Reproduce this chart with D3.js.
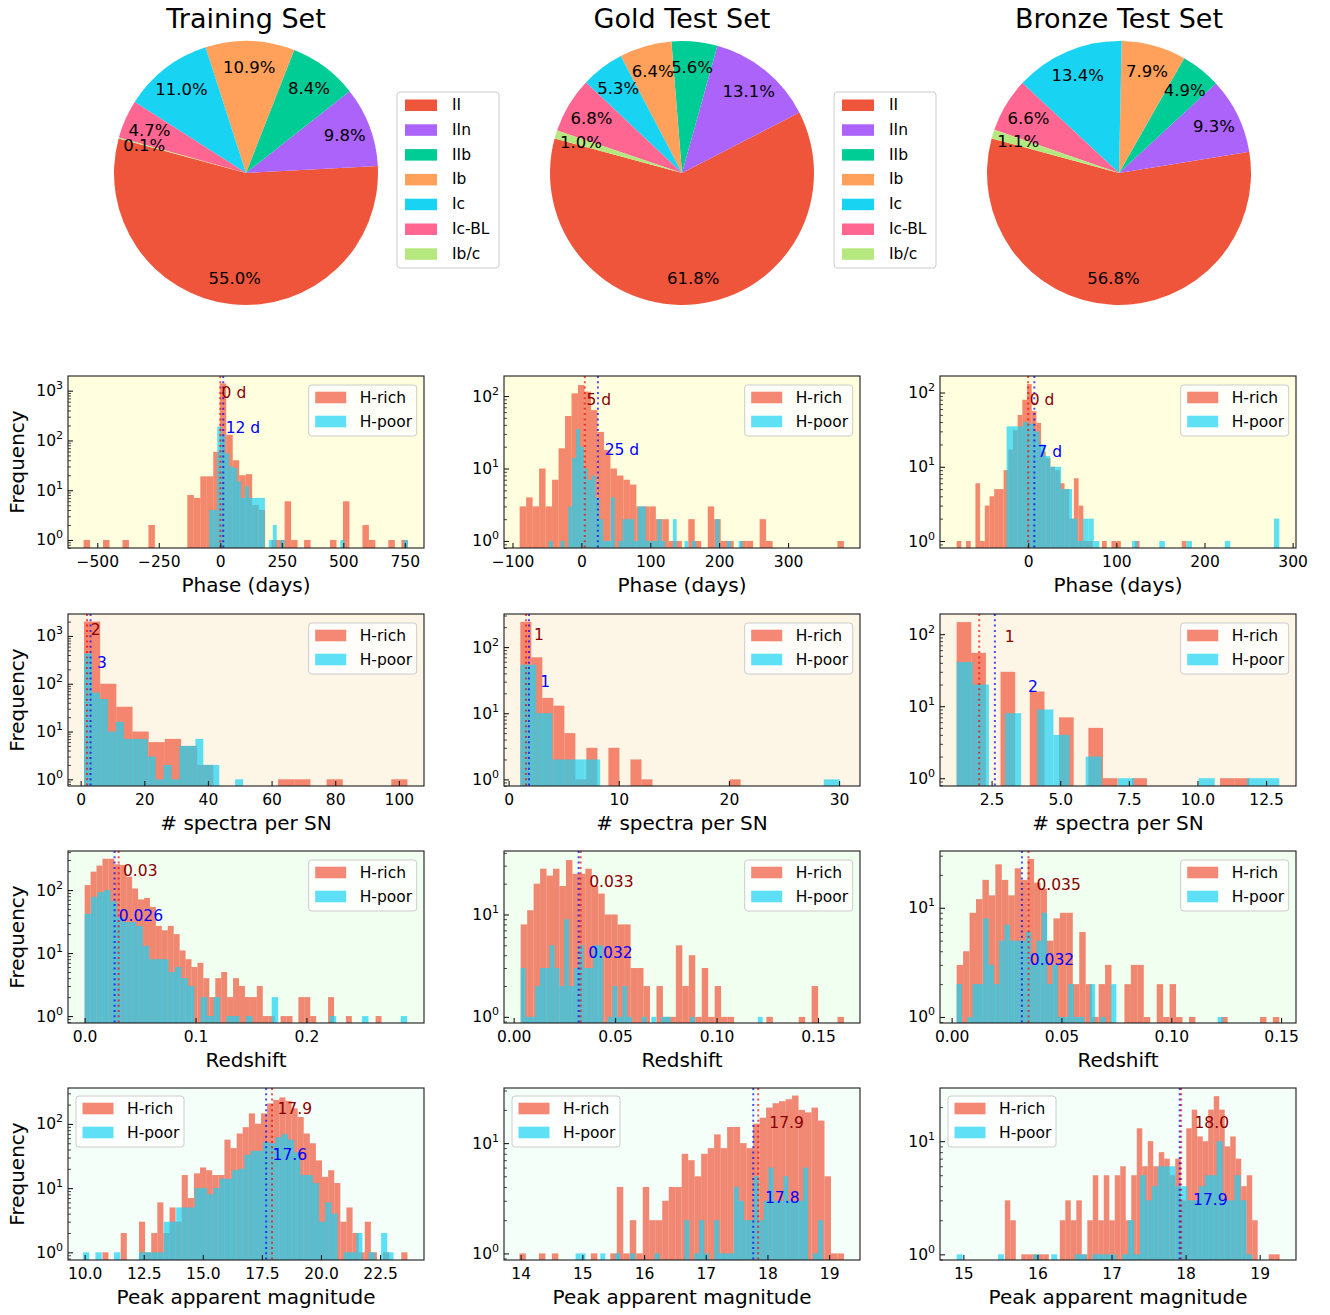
<!DOCTYPE html>
<html><head><meta charset="utf-8">
<script src="https://cdn.jsdelivr.net/npm/d3@7"></script>
<style>body{margin:0;background:#fff} text{font-family:"DejaVu Sans",sans-serif}</style>
</head><body><svg id="c" width="1330" height="1315"></svg>
<script>
// ---------------- Pie data ----------------
const snTypes = ["II","IIn","IIb","Ib","Ic","Ic-BL","Ib/c"];
const snColors = ["#EF553B","#AB63FA","#00CC96","#FFA15A","#19D3F3","#FF6692","#B6E880"];
const pieTitles = ["Training Set","Gold Test Set","Bronze Test Set"];
const trainingPct = [55.0,9.8,8.4,10.9,11.0,4.7,0.1];
const goldPct = [61.8,13.1,5.6,6.4,5.3,6.8,1.0];
const bronzePct = [56.8,9.3,4.9,7.9,13.4,6.6,1.1];

// ---------------- Histogram data ----------------
const seriesNames = ["H-rich","H-poor"];
const seriesColors = ["#EF553B","#19D3F3"];
const rowLabels = ["Phase (days)","# spectra per SN","Redshift","Peak apparent magnitude"];

// Phase
const phaseTrainRichBins = [-555.7, 762.2];
const phaseTrainRichCounts = [1,0,0,1,0,0,1,0,0,0, 2,0,0,0,0,0,8,7,19,19, 59,1400,130,40,20,21,5,4,0,1, 1,6,1,0,1,0,0,0,1,0, 6,0,0,2,1,0,0,1,0,1];
const phaseTrainPoorBins = [-44.8, 762.2];
const phaseTrainPoorCounts = [4,4,190,130,55,30,28,15,7,12, 7,7,7,7,0,1,2,0,1,0, 0,0,0,0,0,0,0,0,0,0, 0,0,0,1,0,0,0,0,0,0, 0,0,0,0,0,0,0,0,0,1];
const phaseGoldRichBins = [-89.6, 381.1];
const phaseGoldRichCounts = [3,4,3,10,3,7,19,53,109,142, 115,64,32,18,10,8,7,6,3,3, 3,2,2,1,1,0,2,1,0,3, 2,1,1,0,1,1,0,2,1,0, 0,0,0,0,0,0,0,0,0,1];
const phaseGoldPoorBins = [-47.0, 233.9];
const phaseGoldPoorCounts = [1,0,0,1,0,3,14,35,20,10, 7,8,4,2,1,1,4,0,1,2, 2,2,1,3,3,1,1,1,2,1, 0,0,2,0,0,1,0,1,0,0, 0,0,0,2,0,0,1,0,0,1];
const phaseBronzeRichBins = [-81.1, 184.9];
const phaseBronzeRichCounts = [1,0,1,0,6,1,3,4,5,5, 9,17,31,50,80,130,56,39,16,13, 10,9,6,5,2,7,3,1,1,0, 0,1,0,1,1,0,0,0,1,0, 0,0,0,0,0,0,0,0,1,0];
const phaseBronzePoorBins = [-24.5, 284.9];
const phaseBronzePoorCounts = [35,35,35,40,38,30,20,14,10,10, 5,5,2,1,2,2,1,0,0,0, 0,0,0,1,0,0,0,0,1,0, 0,0,0,1,0,0,0,0,0,0, 1,0,0,0,0,0,0,0,0,2];

// Number of spectra per SN
const specTrainRichBins = [1.05, 102.7];
const specTrainRichCounts = [2000,100,33,10,6,7,5,2,0,0, 0,0,1,1,0,1,0,0,0,1];
const specTrainPoorBins = [1.05, 51.05];
const specTrainPoorCounts = [430,65,48,10,16,7,7,7,3,1, 2,1,5,5,7,2,2,0,0,1];
const specGoldRichBins = [1.06, 21.06];
const specGoldRichCounts = [240,70,17,13,5,1,3,0,3,0, 2,1,0,0,0,0,0,0,0,1];
const specGoldPoorBins = [1.06, 30.06];
const specGoldPoorCounts = [54,10,2,2,2,0,0,0,0,0, 0,0,0,0,0,0,0,0,0,1];
const specBronzeRichBins = [1.227, 11.89];
const specBronzeRichCounts = [147,55,0,30,0,16,0,7,0,5, 1,0,1,0,0,0,0,0,1,1];
const specBronzePoorBins = [1.227, 12.98];
const specBronzePoorCounts = [41,20,0,8,0,9,4,0,2,0, 1,0,0,0,0,1,0,0,1,1];

// Redshift
const zTrainRichBins = [0.0, 0.2677];
const zTrainRichCounts = [120,196,245,314,314,257,250,163,106,71, 75,54,27,23,27,20,11,8,6,7, 4,2,4,5,2,4,3,2,2,3, 1,1,0,1,1,0,2,2,1,0, 0,2,0,0,1,0,0,0,0,1];
const zTrainPoorBins = [0.0, 0.2908];
const zTrainPoorCounts = [42,78,93,100,66,37,31,31,27,13, 8,8,8,5,6,4,3,0,2,1, 2,0,1,1,0,1,0,0,0,2, 0,0,0,0,0,0,0,0,1,0, 0,0,0,1,0,0,0,0,0,1];
const zGoldRichBins = [0.00345, 0.1628];
const zGoldRichCounts = [8,11,20,28,24,28,19,34,25,25, 28,19,16,10,10,8,8,3,3,2, 0,2,1,1,5,2,4,1,3,1, 2,1,1,0,0,0,0,0,1,0, 0,0,0,1,0,2,0,0,0,1];
const zGoldPoorBins = [0.00345, 0.1227];
const zGoldPoorCounts = [3,1,1,2,3,3,5,3,2,9, 2,3,5,3,3,5,5,0,1,2, 1,2,1,0,0,1,0,1,0,1, 1,0,0,0,0,1,0,0,0,0, 0,0,0,0,0,0,0,0,0,1];
const zBronzeRichBins = [0.00227, 0.1492];
const zBronzeRichCounts = [3,4,9,12,18,13,25,18,13,23, 18,28,17,15,5,8,9,9,2,6, 2,1,2,3,0,0,2,3,3,1, 0,2,1,2,1,0,1,0,0,0, 0,1,0,0,0,0,0,1,0,1];
const zBronzePoorBins = [0.00227, 0.1235];
const zBronzePoorCounts = [2,0,1,2,2,8,3,2,5,7, 5,5,5,6,3,5,9,2,3,1, 1,2,1,1,0,2,0,1,0,2, 0,0,0,0,0,0,0,0,0,0, 0,0,0,0,0,0,0,0,0,1];

// Peak apparent magnitude
const magTrainRichBins = [10.75, 23.66];
const magTrainRichCounts = [1,0,0,2,0,0,3,1,2,6, 2,5,3,16,7,17,21,19,16,16, 57,42,71,89,146,101,146,209,236,259, 229,175,128,71,50,27,15,19,12,3, 5,2,1,3,1,0,1,0,0,1];
const magTrainPoorBins = [9.93, 23.07];
const magTrainPoorCounts = [1,0,1,0,0,1,0,0,0,1, 1,1,1,3,3,5,5,5,10,10, 8,10,14,14,19,20,33,38,38,52, 50,62,69,57,36,16,16,12,3,6, 4,0,1,1,2,0,1,0,2,1];
const magGoldRichBins = [13.98, 19.24];
const magGoldRichCounts = [1,0,0,1,0,1,0,0,0,0, 0,1,0,0,1,4,1,2,1,4, 2,2,3,4,4,8,7,5,8,9, 12,9,14,14,10,9,15,17,21,23, 24,25,27,20,19,21,16,5,1,1];
const magGoldPoorBins = [14.89, 18.90];
const magGoldPoorCounts = [1,1,0,0,0,1,0,0,1,0, 0,1,0,0,0,0,1,0,0,0, 0,0,2,0,1,2,1,0,2,1, 1,1,4,3,2,2,5,2,3,6, 3,3,5,3,3,3,6,0,1,2];
const magBronzeRichBins = [15.56, 19.27];
const magBronzeRichCounts = [3,2,0,1,1,1,1,1,0,0, 2,3,2,3,1,2,5,2,5,2, 5,6,2,5,13,6,10,6,8,7, 5,7,3,13,19,11,10,19,25,19, 9,11,7,4,5,2,0,0,1,1];
const magBronzePoorBins = [14.91, 18.90];
const magBronzePoorCounts = [1,0,0,0,0,0,0,1,0,0, 0,0,0,1,0,0,1,0,0,0, 1,1,0,1,1,1,1,0,1,2, 1,5,3,4,6,6,6,4,4,3, 3,4,5,5,10,3,3,5,3,1];

// Medians [H-rich, H-poor] and their printed labels
const phaseMedians = [[0,12],[5,24],[0,7]];
const phaseMedianText = [["0 d","12 d"],["5 d","25 d"],["0 d","7 d"]];
const specMedians = [[2.0,3.1],[1.58,1.85],[2.05,2.62]];
const specMedianText = [["2","3"],["1","1"],["1","2"]];
const zMedians = [[0.0307,0.027],[0.033,0.032],[0.035,0.032]];
const zMedianText = [["0.03","0.026"],["0.033","0.032"],["0.035","0.032"]];
const magMedians = [[17.93,17.68],[17.85,17.77],[17.94,17.92]];
const magMedianText = [["17.9","17.6"],["17.9","17.8"],["18.0","17.9"]];

// Tick values
const phaseTicks = [[-500,-250,0,250,500,750],[-100,0,100,200,300],[0,100,200,300]];
const specTicks = [[0,20,40,60,80,100],[0,10,20,30],[2.5,5.0,7.5,10.0,12.5]];
const zTicks = [[0.0,0.1,0.2],[0.00,0.05,0.10,0.15],[0.00,0.05,0.10,0.15]];
const magTicks = [[10.0,12.5,15.0,17.5,20.0,22.5],[14,15,16,17,18,19],[15,16,17,18,19]];

// ---------------- Layout (axes limits, annotation anchors) ----------------
const layout = {
  rowsY: [376, 614, 851, 1088], colsX: [68, 504, 940], w: 356, h: 172,
  bgs: ["#FFFFE0","#FDF5E6","#F0FFF0","#F5FFFA"],
  xDom: [
    [[-619,828],[-112.3,404.4],[-100,303.8]],
    [[-3.98,107.9],[-0.42,31.9],[0.621,13.59]],
    [[-0.015,0.306],[-0.00477,0.1707],[-0.0053,0.1568]],
    [[9.294,24.36],[13.73,19.50],[14.685,19.49]]
  ],
  yDom: [
    [[0.69,1972],[0.80,189],[0.805,167]],
    [[0.724,2884],[0.794,316],[0.78,190.5]],
    [[0.776,417],[0.871,41.7],[0.881,33.1]],
    [[0.759,363],[0.871,31.6],[0.891,29.5]]
  ],
  anchors: [
    [[[5.4,890],[21.7,178]], [[7.3,88],[33.9,18]], [[1.9,79],[10.6,16]]],
    [[[3.14,1320],[5.1,268]], [[2.3,150],[2.88,30]], [[2.98,92],[3.83,18.5]]],
    [[[0.0346,200],[0.0307,39]], [[0.0372,20.7],[0.0368,4.2]], [[0.0386,16.3],[0.0356,3.3]]],
    [[[18.16,169],[17.95,33]], [[18.03,15.2],[17.96,3.16]], [[18.12,14.5],[18.10,3.0]]]
  ],
  tickFmt: [["d","d","d"],["d","d",".1f"],[".1f",".2f",".2f"],[".1f","d","d"]]
};

const hist = [
  [[phaseTrainRichBins,phaseTrainRichCounts,phaseTrainPoorBins,phaseTrainPoorCounts],
   [phaseGoldRichBins,phaseGoldRichCounts,phaseGoldPoorBins,phaseGoldPoorCounts],
   [phaseBronzeRichBins,phaseBronzeRichCounts,phaseBronzePoorBins,phaseBronzePoorCounts]],
  [[specTrainRichBins,specTrainRichCounts,specTrainPoorBins,specTrainPoorCounts],
   [specGoldRichBins,specGoldRichCounts,specGoldPoorBins,specGoldPoorCounts],
   [specBronzeRichBins,specBronzeRichCounts,specBronzePoorBins,specBronzePoorCounts]],
  [[zTrainRichBins,zTrainRichCounts,zTrainPoorBins,zTrainPoorCounts],
   [zGoldRichBins,zGoldRichCounts,zGoldPoorBins,zGoldPoorCounts],
   [zBronzeRichBins,zBronzeRichCounts,zBronzePoorBins,zBronzePoorCounts]],
  [[magTrainRichBins,magTrainRichCounts,magTrainPoorBins,magTrainPoorCounts],
   [magGoldRichBins,magGoldRichCounts,magGoldPoorBins,magGoldPoorCounts],
   [magBronzeRichBins,magBronzeRichCounts,magBronzePoorBins,magBronzePoorCounts]]
];
const medians = [phaseMedians, specMedians, zMedians, magMedians];
const medianText = [phaseMedianText, specMedianText, zMedianText, magMedianText];
const ticks = [phaseTicks, specTicks, zTicks, magTicks];

const svg = d3.select("#c");
const FONT = "DejaVu Sans";
const FS = 15.5;

// ---------------- Pies ----------------
const pieData = [trainingPct, goldPct, bronzePct];
const pieCX = [246, 682, 1119], pieCY = 173, pieR = 132;
const startDeg = 164.8; // matplotlib angle (ccw from 3 o'clock) where first wedge begins
pieData.forEach((pct, i) => {
  const g = svg.append("g").attr("transform", `translate(${pieCX[i]},${pieCY})`);
  const a0 = (90 - startDeg) * Math.PI / 180;
  const arcs = d3.pie().sort(null).value(d => d).startAngle(a0).endAngle(a0 - 2 * Math.PI)(pct);
  const arc = d3.arc().innerRadius(0).outerRadius(pieR);
  g.selectAll("path").data(arcs).enter().append("path")
    .attr("d", arc).attr("fill", (d, j) => snColors[j]);
  g.selectAll("text.pct").data(arcs).enter().append("text")
    .attr("class", "pct")
    .attr("x", d => 0.8 * pieR * Math.sin((d.startAngle + d.endAngle) / 2))
    .attr("y", d => -0.8 * pieR * Math.cos((d.startAngle + d.endAngle) / 2))
    .attr("text-anchor", "middle").attr("dominant-baseline", "central")
    .attr("font-size", 16.5).attr("fill", "#000")
    .text(d => d3.format(".1f")(d.value) + "%");
  svg.append("text").attr("x", pieCX[i]).attr("y", 28).attr("text-anchor", "middle")
    .attr("font-size", 27).text(pieTitles[i]);
});
// pie legends (Training and Gold)
[[397, 92], [834, 92]].forEach(([lx, ly]) => {
  const g = svg.append("g").attr("transform", `translate(${lx},${ly})`);
  g.append("rect").attr("width", 102).attr("height", 176).attr("rx", 3)
    .attr("fill", "#fff").attr("fill-opacity", 0.8).attr("stroke", "#cccccc");
  snTypes.forEach((t, j) => {
    const cy = 13 + j * 24.8;
    g.append("rect").attr("x", 8).attr("y", cy - 5.5).attr("width", 32).attr("height", 11.5)
      .attr("fill", snColors[j]);
    g.append("text").attr("x", 55).attr("y", cy).attr("dominant-baseline", "central")
      .attr("font-size", FS).text(t);
  });
});

// ---------------- Histograms ----------------
function supLabel(sel, x, y, base, exp) {
  const t = sel.append("text").attr("x", x).attr("y", y).attr("text-anchor", "end")
    .attr("font-size", FS).attr("fill", "#000");
  t.append("tspan").text(base);
  t.append("tspan").attr("dy", -7).attr("font-size", 11).text(exp);
}

for (let r = 0; r < 4; r++) {
  for (let c = 0; c < 3; c++) {
    const x0 = layout.colsX[c], y0 = layout.rowsY[r], w = layout.w, h = layout.h;
    const x = d3.scaleLinear().domain(layout.xDom[r][c]).range([x0, x0 + w]);
    const y = d3.scaleLog().domain(layout.yDom[r][c]).range([y0 + h, y0]);
    const g = svg.append("g");
    const clipId = `clip${r}${c}`;
    g.append("clipPath").attr("id", clipId).append("rect")
      .attr("x", x0).attr("y", y0).attr("width", w).attr("height", h);
    g.append("rect").attr("x", x0).attr("y", y0).attr("width", w).attr("height", h)
      .attr("fill", layout.bgs[r]);
    const plot = g.append("g").attr("clip-path", `url(#${clipId})`);
    const [rb, rc, pb, pc] = hist[r][c];
    [[rb, rc, 0], [pb, pc, 1]].forEach(([bins, counts, s]) => {
      const n = counts.length;
      const edges = d3.range(n + 1).map(k => bins[0] + (bins[1] - bins[0]) * k / n);
      const bars = counts.map((v, k) => ({ v, a: edges[k], b: edges[k + 1] })).filter(d => d.v > 0);
      plot.selectAll(null).data(bars).enter().append("rect")
        .attr("x", d => x(d.a)).attr("width", d => Math.max(0, x(d.b) - x(d.a)))
        .attr("y", d => y(d.v)).attr("height", d => y0 + h - y(d.v))
        .attr("fill", seriesColors[s]).attr("fill-opacity", 0.7);
    });
    // median lines
    const lineCols = ["#ff0000", "#0000ff"];
    medians[r][c].forEach((m, s) => {
      plot.append("line").attr("x1", x(m)).attr("x2", x(m)).attr("y1", y0).attr("y2", y0 + h)
        .attr("stroke", lineCols[s]).attr("stroke-opacity", 0.7).attr("stroke-width", 2)
        .attr("stroke-dasharray", "2,3.3");
    });
    // median labels
    const textCols = ["#8B0000", "#0000FF"];
    layout.anchors[r][c].forEach((p, s) => {
      g.append("text").attr("x", x(p[0])).attr("y", y(p[1])).attr("dominant-baseline", "central")
        .attr("font-size", FS).attr("fill", textCols[s]).text(medianText[r][c][s]);
    });
    // frame
    g.append("rect").attr("x", x0).attr("y", y0).attr("width", w).attr("height", h)
      .attr("fill", "none").attr("stroke", "#1a1a1a").attr("stroke-width", 1.1);
    // x axis
    const fmt = d3.format(layout.tickFmt[r][c]);
    const xa = g.append("g").attr("transform", `translate(0,${y0 + h})`)
      .call(d3.axisBottom(x).tickValues(ticks[r][c]).tickSize(-5).tickPadding(7.5).tickFormat(fmt));
    xa.select(".domain").remove();
    xa.selectAll("text").attr("font-size", FS).attr("font-family", FONT).attr("fill", "#000");
    xa.selectAll("line").attr("stroke", "#1a1a1a").attr("stroke-width", 1.1);
    // y axis: majors and minors
    const [ymin, ymax] = layout.yDom[r][c];
    const majors = [], minors = [];
    for (let e = -1; e <= 4; e++) {
      for (let m = 1; m <= 9; m++) {
        const v = m * Math.pow(10, e);
        if (v < ymin || v > ymax) continue;
        (m === 1 ? majors : minors).push(v);
      }
    }
    const ya = g.append("g").attr("transform", `translate(${x0},0)`)
      .call(d3.axisLeft(y).tickValues(majors).tickSize(-5).tickFormat(""));
    ya.select(".domain").remove();
    ya.selectAll("line").attr("stroke", "#1a1a1a").attr("stroke-width", 1.1);
    const ym = g.append("g").attr("transform", `translate(${x0},0)`)
      .call(d3.axisLeft(y).tickValues(minors).tickSize(-3).tickFormat(""));
    ym.select(".domain").remove();
    ym.selectAll("line").attr("stroke", "#1a1a1a").attr("stroke-width", 0.8);
    majors.forEach(v => supLabel(g, x0 - 5, y(v) + 5.5, "10", String(Math.round(Math.log10(v)))));
    // axis labels
    g.append("text").attr("x", x0 + w / 2).attr("y", y0 + h + 37).attr("text-anchor", "middle")
      .attr("dominant-baseline", "central").attr("font-size", 20).text(rowLabels[r]);
    if (c === 0) {
      g.append("text").attr("transform", `translate(17,${y0 + h / 2}) rotate(-90)`)
        .attr("text-anchor", "middle").attr("dominant-baseline", "central")
        .attr("font-size", 20).text("Frequency");
    }
    // legend
    const lw = 108, lh = 51;
    const lx = r === 3 ? x0 + 8 : x0 + w - 7.3 - lw;
    const ly = r === 3 ? y0 + 8 : y0 + 9;
    const lg = g.append("g").attr("transform", `translate(${lx},${ly})`);
    lg.append("rect").attr("width", lw).attr("height", lh).attr("rx", 3)
      .attr("fill", "#fff").attr("fill-opacity", 0.8).attr("stroke", "#cccccc");
    seriesNames.forEach((nm, s) => {
      const cy = 12.5 + s * 24;
      lg.append("rect").attr("x", 6.5).attr("y", cy - 5.8).attr("width", 31).attr("height", 11.6)
        .attr("fill", seriesColors[s]).attr("fill-opacity", 0.7);
      lg.append("text").attr("x", 51).attr("y", cy).attr("dominant-baseline", "central")
        .attr("font-size", FS).text(nm);
    });
  }
}
</script></body></html>
